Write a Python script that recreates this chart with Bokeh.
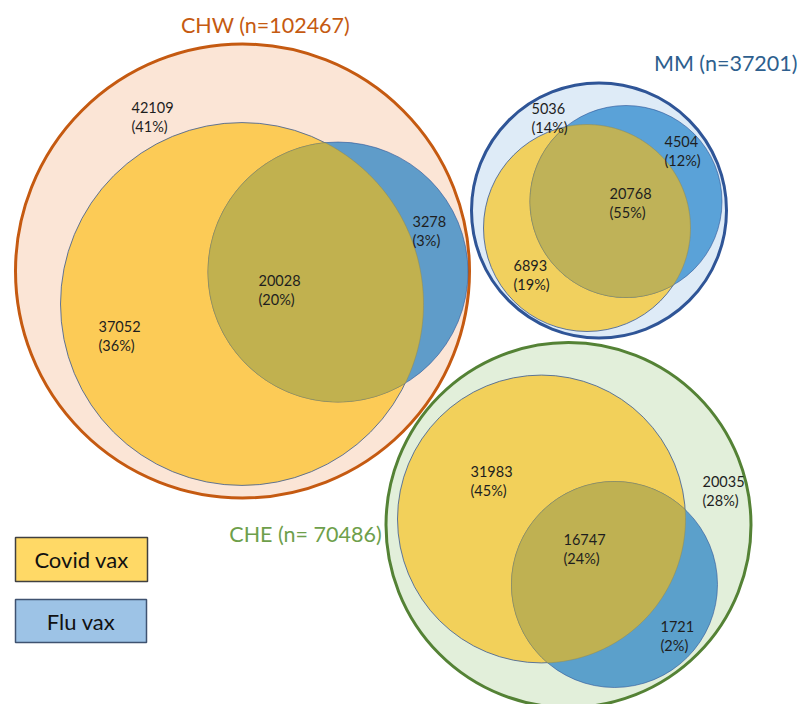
import numpy as np
from bokeh.plotting import figure
from bokeh.models import Range1d
from bokeh.core.properties import value
from bokeh.embed import file_html
from bokeh.resources import INLINE

# ---------------- data ----------------
groups = ["CHW", "MM", "CHE"]
group_titles = ["CHW (n=102467)", "MM (n=37201)", "CHE (n= 70486)"]
totals = [102467, 37201, 70486]
neither = [42109, 5036, 20035]
neither_pct = [41, 14, 28]
covid_only = [37052, 6893, 31983]
covid_only_pct = [36, 19, 45]
flu_only = [3278, 4504, 1721]
flu_only_pct = [3, 12, 2]
both = [20028, 20768, 16747]
both_pct = [20, 55, 24]
legend_labels = ["Covid vax", "Flu vax"]

# ---------------- layout (page pixel frame) ----------------
outer_xy = [(242, 270.5), (598.5, 210), (568, 524.5)]
outer_r = [227, 127.5, 182.5]
covid_xy = [(241.5, 303.5), (586.5, 227.5), (541, 518.5)]
covid_r = [181.5, 103.5, 144]
flu_xy = [(337.5, 271.5), (625.5, 201), (614, 584)]
flu_r = [130, 96, 103]

pos_neither = [(131, 107), (531, 108), (702, 481)]
pos_covid = [(98, 326), (513, 265), (470, 471)]
pos_flu = [(412, 221), (664, 141), (660, 626)]
pos_both = [(258, 280), (609, 193), (563, 539)]

title_pos = [(265, 24, "center"), (797, 62, "right"), (305, 533, "center")]

legend_boxes = [(15, 147, 537, 581), (15, 146, 599, 642)]

# ---------------- styles ----------------
outer_fill = ["#FBE5D6", "#DEEBF7", "#E2EFDA"]
outer_line = ["#C55A11", "#2F5597", "#548235"]
covid_fill = ["#FCCB56", "#F1D05E", "#F2D05A"]
flu_fill = ["#5F9CC9", "#5AA2D8", "#5BA0CB"]
both_fill = ["#C1B14F", "#BFB258", "#BFB152"]
title_color = ["#C55A11", "#2E5F8E", "#6E9F4B"]
legend_fill = ["#FFD966", "#9DC3E6"]
legend_line = ["#404040", "#3F5270"]
FONT = value("Lato")

W, H = 799, 704
p = figure(width=W, height=H, output_backend="svg", toolbar_location=None,
           x_range=Range1d(0, W), y_range=Range1d(H, 0),
           min_border=0, background_fill_color="white", border_fill_color="white")
p.axis.visible = False
p.grid.visible = False
p.outline_line_color = None


def lens(c1, r1, c2, r2, n=720):
    t = np.linspace(0, 2 * np.pi, n, endpoint=False)
    a = np.c_[c1[0] + r1 * np.cos(t), c1[1] + r1 * np.sin(t)]
    b = np.c_[c2[0] + r2 * np.cos(t), c2[1] + r2 * np.sin(t)]
    a_in = a[np.hypot(a[:, 0] - c2[0], a[:, 1] - c2[1]) <= r2]
    b_in = b[np.hypot(b[:, 0] - c1[0], b[:, 1] - c1[1]) <= r1]
    pts = np.vstack([a_in, b_in])
    cx, cy = pts.mean(axis=0)
    order = np.argsort(np.arctan2(pts[:, 1] - cy, pts[:, 0] - cx))
    pts = pts[order]
    return list(pts[:, 0]), list(pts[:, 1])


# outer circles
p.circle([c[0] for c in outer_xy], [c[1] for c in outer_xy], radius=outer_r,
         fill_color=outer_fill, line_color=outer_line, line_width=3)
# covid circles
p.circle([c[0] for c in covid_xy], [c[1] for c in covid_xy], radius=covid_r,
         fill_color=covid_fill, line_color="#3A5A95", line_width=1, line_alpha=0.8)
# flu circles
p.circle([c[0] for c in flu_xy], [c[1] for c in flu_xy], radius=flu_r,
         fill_color=flu_fill, line_color="#2F5597", line_width=1, line_alpha=0.6)
# overlaps
lx, ly = [], []
for i in range(len(groups)):
    xs, ys = lens(covid_xy[i], covid_r[i], flu_xy[i], flu_r[i])
    lx.append(xs)
    ly.append(ys)
p.patches(lx, ly, fill_color=both_fill, line_color="#8E8A55", line_width=1, line_alpha=0.5)

# labels
for counts, pcts, pos in [(neither, neither_pct, pos_neither),
                          (covid_only, covid_only_pct, pos_covid),
                          (flu_only, flu_only_pct, pos_flu),
                          (both, both_pct, pos_both)]:
    xs = [q[0] for q in pos]
    ys = [q[1] for q in pos]
    p.text(xs, ys, text=[str(c) for c in counts], text_font=FONT,
           text_font_size="14.5px", text_align="left", text_baseline="middle",
           text_color="#1e1e1e")
    p.text(xs, ys, text=[f"({v}%)" for v in pcts], y_offset=19, text_font=FONT,
           text_font_size="14.5px", text_align="left", text_baseline="middle",
           text_color="#1e1e1e")

# titles
for i, t in enumerate(group_titles):
    x, y, al = title_pos[i]
    p.text([x], [y], text=[t], text_font=FONT, text_font_size="21.5px",
           text_align=al, text_baseline="middle", text_color=title_color[i])

# legend boxes
for i, lab in enumerate(legend_labels):
    l, r, t, b = legend_boxes[i]
    p.quad(left=[l], right=[r], top=[t], bottom=[b], fill_color=legend_fill[i],
           line_color=legend_line[i], line_width=1.5)
    p.text([(l + r) / 2], [(t + b) / 2], text=[lab], text_font=FONT,
           text_font_size="22px", text_align="center", text_baseline="middle",
           text_color="#111111")

open("out.html", "w").write(file_html(p, INLINE))
